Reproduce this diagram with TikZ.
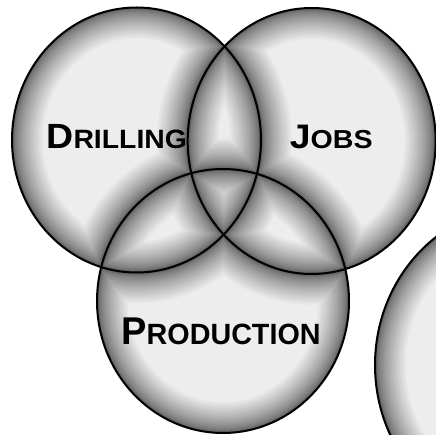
\documentclass[tikz,border=0pt]{standalone}
\usepackage{fontspec}
\setmainfont{Liberation Sans}
\usetikzlibrary{shapes.geometric}

\tikzset{
  % the four overlapping discs as one path (nonzero rule gives their union)
  discs/.style={insert path={
    (136.5,140) ellipse [x radius=124.5pt, y radius=132.5pt]
    (311.7,141) ellipse [x radius=124pt, y radius=133pt]
    (223,301) ellipse [x radius=126pt, y radius=132pt]
    (525,365) ellipse [x radius=150pt, y radius=159pt]}},
  setdisc/.style={ellipse, inner sep=0pt, outer sep=0pt, draw=black, line width=2pt},
  wordlabel/.style={anchor=base, inner sep=0pt, font=\bfseries}
}

% large initial + small capitals, stretched horizontally by #5
\newcommand{\capsword}[5]{\scalebox{#5}[1]{\fontsize{#1}{#1}\selectfont #3\fontsize{#2}{#2}\selectfont #4}}

\begin{document}
\begin{tikzpicture}[x=1pt,y=-1pt]
\useasboundingbox (0,0) rectangle (436,435);
\clip (0,0) rectangle (436,435);
\fill[white] (0,0) rectangle (436,435);

% light grey body with a soft dark glow along every outline
\begin{scope}
  \clip[discs];
  \fill[black!7] (0,0) rectangle (436,435);
  \foreach \k in {1,...,30} {
    \pgfmathsetmacro\glowwidth{2*(0.033*\k*\k+1)}
    \draw[discs, line width=\glowwidth pt, draw=black, draw opacity=0.028];
  }
\end{scope}

% outlines
\node[setdisc, minimum width=249pt, minimum height=265pt] (drilling) at (136.5,140) {};
\node[setdisc, minimum width=248pt, minimum height=266pt] (jobs) at (311.7,141) {};
\node[setdisc, minimum width=252pt, minimum height=264pt] (production) at (223,301) {};
\node[setdisc, minimum width=300pt, minimum height=318pt] (fourth) at (525,365) {};

\node[wordlabel] (drillingtext) at (116.7,148.3) {\capsword{35}{26.5}{D}{RILLING}{1.07}};
\node[wordlabel] (jobstext) at (331.3,148.3) {\capsword{34}{26}{J}{OBS}{1.1}};
\node[wordlabel] (productiontext) at (221,344.3) {\capsword{38.7}{29.3}{P}{RODUCTION}{0.98}};
\end{tikzpicture}
\end{document}
